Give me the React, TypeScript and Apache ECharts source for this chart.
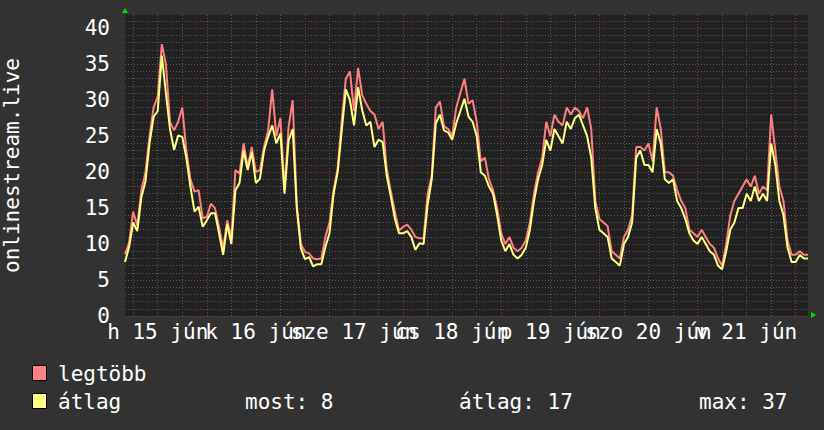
import React, { useEffect, useRef } from "react";
import * as echarts from "echarts";

// hours since "15 jún" 00:00, one sample per hour
const firstHour = 4;
const lastHour = 171;
const hours: string[] = Array.from({ length: lastHour - firstHour + 1 }, (_, i) => String(firstHour + i));

const dayLabels = ["h 15 jún", "k 16 jún", "sze 17 jún", "cs 18 jún", "p 19 jún", "szo 20 jún", "v 21 jún"];

const maxValues = [
  8.6, 10.2, 14.5, 12.6, 17.5, 20.0, 25, 29.0, 30.5, 37.8, 35, 27, 25.8, 27, 29, 23, 19, 17.3, 17.5, 13.6,
  13.8, 15.6, 15, 12.4, 9.4, 13.3, 10.8, 20.3, 19.8, 24, 20.7, 23.5, 20, 20.3, 23.5, 25.8, 31.5, 25, 27.5, 17.5,
  26.3, 30, 15.5, 10, 8.9, 8.7, 8, 7.9, 8, 11, 13, 17.5, 20.5, 27.2, 33, 34, 28.5, 34.5, 30.7, 29.5,
  28.5, 28, 26, 27, 20.5, 17.3, 14.5, 11.9, 12.4, 12.7, 12, 11, 10.8, 10.8, 17, 19.5, 29, 29.8, 26.4, 26,
  25, 29, 31, 33, 29.5,
  30, 27, 21.5, 22, 19, 17.5, 15, 11.5, 10, 11, 9.5, 9, 9.5, 10.5, 13, 17, 20, 22, 27, 25,
  28, 27, 26.5, 29, 28, 29, 28.5, 27.5, 29, 26, 16, 13.5, 13, 12.5, 9, 8.5, 8, 11, 12, 14,
  23.5, 23.5, 23, 24, 21.5, 29, 26, 20, 20, 19.5, 17.5, 16, 15, 12, 11.5, 11, 12, 11, 10, 9.5,
  8, 7, 10, 14, 16, 17, 18, 19, 18, 19.5, 17, 18, 17.5, 28, 23, 18, 16, 10.5, 8.5, 8.5,
  9, 8.5, 8.5,
];

const avgValues = [
  7.5, 9.6, 13.0, 11.8, 16.5, 18.7, 24, 27.7, 28.5, 36.2, 31, 26, 23.1, 25.1, 24.9, 22, 18, 14.5, 15.2, 12.4,
  13.3, 14.3, 14.3, 11.5, 8.5, 12.8, 10, 17.5, 18.5, 23, 20.3, 22.8, 18.5, 19.1, 23, 24.9, 26.5, 24, 25.4, 17,
  24.4, 26, 15, 9.4, 7.9, 8.2, 6.9, 7.2, 7.2, 9.6, 11.5, 17, 20, 25.8, 31.5, 30, 26.5, 31.8, 28.6, 26.5,
  27, 23.5, 24.5, 24.2, 19.5, 16.6, 13.5, 11.5, 11.5, 11.8, 11, 9.2, 10.1, 10, 15.5, 19, 26.8, 28, 25.8, 25.5,
  24.5, 26.8, 28.5, 30.2, 27.7,
  27, 25, 20, 19.5, 18, 17, 14, 10.5, 9, 10, 8.5, 8, 8.5, 9.5, 12, 16, 19, 21, 24.5, 23,
  26, 25, 24, 27, 26, 27.5, 28, 26.5, 25, 22, 15, 12, 11.5, 11, 8, 7.5, 7, 10, 11, 13,
  22, 23, 21, 21, 20, 26, 24, 19, 18.5, 19, 16, 15, 13.5, 11.5, 10.5, 10, 11, 10, 9, 8.5,
  7, 6.5, 9, 12, 13, 15, 15, 17, 16, 18, 16, 17, 16, 24, 21, 16, 14, 9.5, 7.5, 7.5,
  8.5, 8, 8,
];

const seriesNames = ["legtöbb", "átlag"];
const seriesColors = ["#ff8080", "#ffff80"];
const statNow = 8;
const statAvg = 17;
const statMax = 37;
const axisTitle = "onlinestream.live";

const FONT = "'DejaVu Sans Mono', monospace";

export default function App() {
  const ref = useRef<HTMLDivElement>(null);
  useEffect(() => {
    document.body.style.margin = "0";
    if (!ref.current) return;
    const chart = echarts.init(ref.current, null, { renderer: "svg" });
    const gridGrey = "#5a5a5a";
    const gridRed = "#8a3a3a";
    const gridLeft = 125;
    const gridTop = 15;
    const gridRight = 808;
    const gridBottom = 316;
    const labelStyle = {
      showMinLabel: true,
      showMaxLabel: true,
      hideOverlap: false,
      color: "#ffffff",
      fontFamily: FONT,
      fontSize: 21,
      margin: 5,
      formatter: (v: string) => dayLabels[Math.floor(Number(v) / 24)],
    };
    const hidden = {
      type: "category",
      data: hours,
      boundaryGap: false,
      position: "bottom",
      axisLine: { show: false },
      axisTick: { show: false },
    };
    chart.setOption({
      animation: false,
      backgroundColor: "#323232",
      grid: {
        left: gridLeft,
        top: gridTop,
        right: 824 - gridRight,
        bottom: 430 - gridBottom,
        show: true,
        backgroundColor: "#212121",
        borderWidth: 0,
      },
      xAxis: [
        {
          ...hidden,
          axisLabel: { ...labelStyle, interval: (_i: number, v: string) => Number(v) % 48 === 12 },
          splitLine: {
            show: true,
            interval: (_i: number, v: string) => Number(v) % 6 === 0,
            lineStyle: { color: gridGrey, type: [1, 2], width: 1 },
          },
        },
        {
          ...hidden,
          axisLabel: { ...labelStyle, interval: (_i: number, v: string) => Number(v) % 48 === 36 },
          splitLine: {
            show: true,
            interval: (_i: number, v: string) => Number(v) % 24 === 0,
            lineStyle: { color: gridRed, type: [1, 2], width: 1 },
          },
        },
      ],
      yAxis: {
        type: "value",
        min: 0,
        max: 41.85,
        interval: 5,
        axisLine: { show: false },
        axisTick: { show: false },
        axisLabel: {
          showMaxLabel: false,
          color: "#ffffff",
          fontFamily: FONT,
          fontSize: 21,
          margin: 15,
        },
        splitLine: {
          show: true,
          lineStyle: {
            color: [...Array(9).fill(gridRed), "rgba(0,0,0,0)"],
            type: [1, 2],
            width: 1,
          },
        },
        minorTick: { show: false, splitNumber: 5 },
        minorSplitLine: { show: true, lineStyle: { color: gridGrey, type: [1, 2], width: 1 } },
      },
      series: [
        {
          name: seriesNames[0],
          type: "line",
          data: maxValues,
          showSymbol: false,
          lineStyle: { color: seriesColors[0], width: 2 },
          itemStyle: { color: seriesColors[0] },
          z: 3,
        },
        {
          name: seriesNames[1],
          type: "line",
          data: avgValues,
          showSymbol: false,
          lineStyle: { color: seriesColors[1], width: 2 },
          itemStyle: { color: seriesColors[1] },
          z: 4,
        },
      ],
      graphic: [
        {
          type: "text",
          x: 12,
          y: (gridTop + gridBottom) / 2,
          rotation: Math.PI / 2,
          style: {
            text: axisTitle,
            fill: "#ffffff",
            font: `21px ${FONT}`,
            align: "center",
            verticalAlign: "middle",
          },
        },
        {
          type: "polygon",
          shape: { points: [[122, 13], [128, 13], [125, 8]] },
          style: { fill: "#00dd00" },
        },
        {
          type: "polygon",
          shape: { points: [[811, 312], [811, 318], [816, 315]] },
          style: { fill: "#00dd00" },
        },
        {
          type: "rect",
          shape: { x: 32.5, y: 365.5, width: 14, height: 15 },
          style: { fill: seriesColors[0], stroke: "#000000", lineWidth: 1 },
        },
        {
          type: "text",
          x: 58,
          y: 374,
          style: { text: seriesNames[0], fill: "#ffffff", font: `21px ${FONT}`, verticalAlign: "middle" },
        },
        {
          type: "rect",
          shape: { x: 32.5, y: 393.5, width: 14, height: 15 },
          style: { fill: seriesColors[1], stroke: "#000000", lineWidth: 1 },
        },
        {
          type: "text",
          x: 58,
          y: 402,
          style: { text: seriesNames[1], fill: "#ffffff", font: `21px ${FONT}`, verticalAlign: "middle" },
        },
        {
          type: "text",
          x: 245,
          y: 402,
          style: { text: `most: ${statNow}`, fill: "#ffffff", font: `21px ${FONT}`, verticalAlign: "middle" },
        },
        {
          type: "text",
          x: 459,
          y: 402,
          style: { text: `átlag: ${statAvg}`, fill: "#ffffff", font: `21px ${FONT}`, verticalAlign: "middle" },
        },
        {
          type: "text",
          x: 699,
          y: 402,
          style: { text: `max: ${statMax}`, fill: "#ffffff", font: `21px ${FONT}`, verticalAlign: "middle" },
        },
      ],
    });
    return () => chart.dispose();
  }, []);
  return <div ref={ref} style={{ width: 824, height: 430 }} />;
}
